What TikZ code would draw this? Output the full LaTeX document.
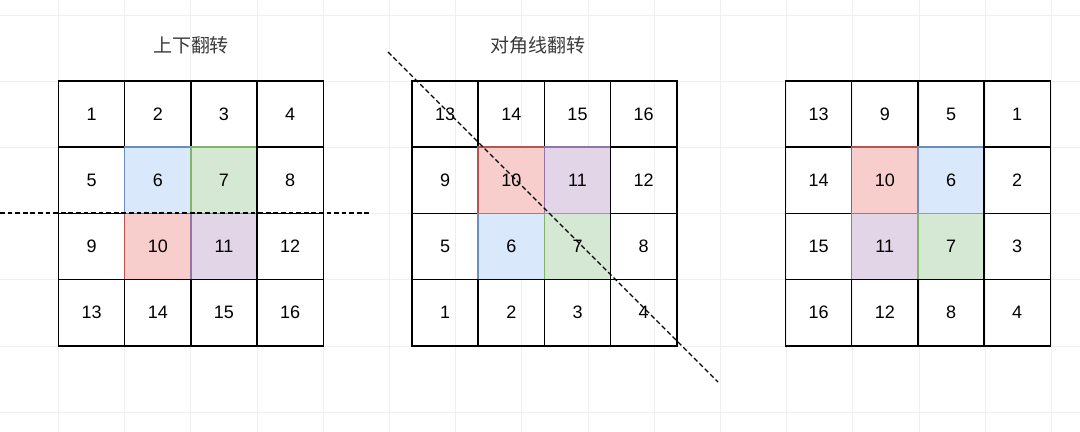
\documentclass[tikz,border=0pt]{standalone}
\usepackage{fontspec}
\setmainfont{Liberation Sans}
\newfontfamily\cjk{Noto Sans CJK SC}

\definecolor{blueF}{HTML}{DAE8FC}
\definecolor{blueD}{HTML}{6C8EBF}
\definecolor{greenF}{HTML}{D5E8D4}
\definecolor{greenD}{HTML}{82B366}
\definecolor{redF}{HTML}{F8CECC}
\definecolor{redD}{HTML}{B85450}
\definecolor{purpleF}{HTML}{E1D5E7}
\definecolor{purpleD}{HTML}{9673A6}
\definecolor{bggrid}{HTML}{EFEFEF}
\definecolor{titlegray}{HTML}{3A3A3A}

\begin{document}
\begin{tikzpicture}[x=0.025cm, y=-0.025cm,
    cell/.style={draw=black, line width=1pt, minimum size=1.655cm, inner sep=0pt,
      font=\fontsize{12.8}{14}\selectfont},
    hl6/.style={fill=blueF, draw=blueD},
    hl7/.style={fill=greenF, draw=greenD},
    hl10/.style={fill=redF, draw=redD},
    hl11/.style={fill=purpleF, draw=purpleD},
    flipline/.style={line width=0.9pt, dash pattern=on 3.4pt off 2pt},
    title/.style={font=\cjk\fontsize{13.5}{16}\selectfont, text=titlegray}]
    \useasboundingbox (0,0) rectangle (1080,432);
    \fill[white] (0,0) rectangle (1080,432);

    % background grid
    \foreach \k in {0,...,15}
        \draw[bggrid, line width=0.6pt] ({58.5+66.2*\k},0) -- ++(0,432);
    \foreach \k in {0,...,6}
        \draw[bggrid, line width=0.6pt] (0,{15+66.2*\k}) -- ++(1080,0);

    % titles
    \node[title] (t-updown) at (191,45) {上下翻转};
    \node[title] (t-diag) at (538,45) {对角线翻转};

    % the three 4x4 grids
    \foreach \r in {1,...,4}
        \foreach \c in {1,...,4} {
            \pgfmathtruncatemacro\na{4*(\r-1)+\c}
            \pgfmathtruncatemacro\nb{4*(4-\r)+\c}
            \pgfmathtruncatemacro\nc{4*(4-\c)+\r}
            \node[cell, hl\na/.try] (a-\r-\c) at ({58.5+66.2*(\c-0.5)},{81+66.2*(\r-0.5)}) {\na};
            \node[cell, hl\nb/.try] (b-\r-\c) at ({412+66.2*(\c-0.5)},{81+66.2*(\r-0.5)}) {\nb};
            \node[cell, hl\nc/.try] (c-\r-\c) at ({785.5+66.2*(\c-0.5)},{81+66.2*(\r-0.5)}) {\nc};
        }

    % flip axes
    \coordinate (h-start) at (0,213);
    \coordinate (h-end) at (372,213);
    \draw[flipline] (h-start) -- (h-end);

    \coordinate (d-start) at (388,52);
    \coordinate (d-end) at (718,382);
    \draw[flipline] (d-start) -- (d-end);
\end{tikzpicture}
\end{document}
